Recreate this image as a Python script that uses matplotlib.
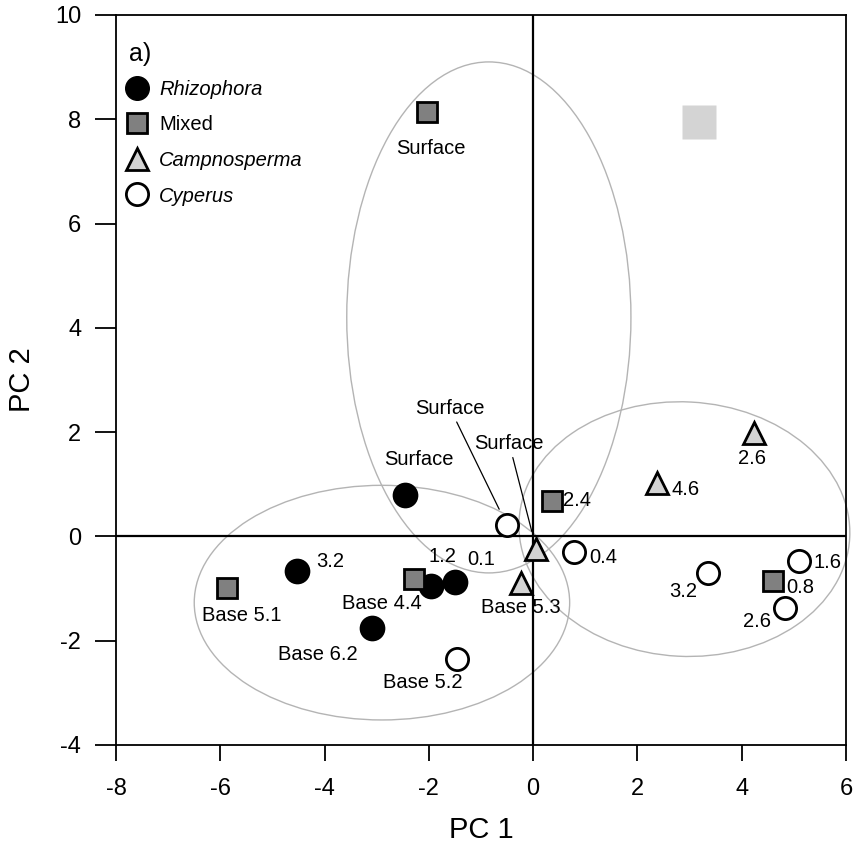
import numpy as np
import matplotlib
matplotlib.use("Agg")
import matplotlib.pyplot as plt
from matplotlib.lines import Line2D
from matplotlib.patches import Ellipse

plt.rcParams['font.family'] = ['Liberation Sans', 'DejaVu Sans']
plt.rcParams['axes.unicode_minus'] = False

# PCA scores per vegetation type
rhizo_x = [-2.45, -4.52, -1.95, -1.50, -3.10]
rhizo_y = [0.80, -0.66, -0.95, -0.87, -1.76]
rhizo_lab = ["Surface", "3.2", "1.2", "0.1", "Base 6.2"]

mixed_x = [-2.04, -5.88, -2.28, 0.37, 4.60]
mixed_y = [8.14, -0.98, -0.82, 0.68, -0.86]
mixed_lab = ["Surface", "Base 5.1", "Base 4.4", "2.4", "0.8"]

campno_x = [4.23, 2.38, 0.06, -0.23]
campno_y = [1.98, 1.02, -0.24, -0.89]
campno_lab = ["2.6", "4.6", "Surface", "Base 5.3"]

cyper_x = [-0.50, 0.79, 3.35, 5.10, 4.83, -1.46]
cyper_y = [0.21, -0.29, -0.70, -0.47, -1.37, -2.35]
cyper_lab = ["Surface", "0.4", "3.2", "1.6", "2.6", "Base 5.2"]

# grey block in the upper right
block_x = [3.18]
block_y = [7.94]

# group ellipses: centre x, centre y, width, height, angle
ell_cx = [-0.85, -2.90, 2.90]
ell_cy = [4.20, -1.27, 0.14]
ell_w = [5.45, 7.20, 6.35]
ell_h = [9.80, 4.50, 4.88]
ell_ang = [0, 0, -3]

# label offsets in pixels (dx, dy)
rhizo_off = [(13, 35), (33, 9), (11, 29), (26, 22), (-54, -26)]
mixed_off = [(4, -37), (15, -28), (-32, -24), (25, 0), (27, -6)]
campno_off = [(-2, -25), (28, -6), (-27, 105), (0, -25)]
cyper_off = [(-57, 117), (29, -6), (-25, -19), (28, -2), (-28, -14), (-34, -24)]

fig = plt.figure(figsize=(8.55, 8.52), dpi=100)
ax = fig.add_axes([0.1357, 0.1256, 0.8538, 0.8568])

for cx, cy, w, h, a in zip(ell_cx, ell_cy, ell_w, ell_h, ell_ang):
    e = Ellipse((cx, cy), w, h, angle=a, fill=False, ec='#b4b4b4', lw=1.0,
                zorder=1, clip_on=False)
    ax.add_patch(e)

ax.axhline(0, color='black', lw=1.6, zorder=2)
ax.axvline(0, color='black', lw=1.6, zorder=2)

ax.plot(block_x, block_y, 's', ms=24, color='#d4d4d4', mec='none', zorder=2)

ax.plot(rhizo_x, rhizo_y, 'o', ms=17, mfc='black', mec='black', mew=1.5, ls='none', zorder=4)
ax.plot(mixed_x, mixed_y, 's', ms=15, mfc='#808080', mec='black', mew=2, ls='none', zorder=4)
ax.plot(campno_x, campno_y, '^', ms=16, mfc='#d3d3d3', mec='black', mew=2, ls='none', zorder=4)
ax.plot(cyper_x, cyper_y, 'o', ms=16, mfc='white', mec='black', mew=2, ls='none', zorder=4)

lab_fs = 14.5


def put_labels(xs, ys, labs, offs, leaders=()):
    for i, (x, y, t, o) in enumerate(zip(xs, ys, labs, offs)):
        if i in leaders:
            ax.annotate(t, (x, y), xytext=o, textcoords='offset pixels',
                        ha='center', va='center', fontsize=lab_fs, zorder=5,
                        arrowprops=dict(arrowstyle='-', lw=0.9, color='black',
                                        shrinkA=1, shrinkB=13))
        else:
            ax.annotate(t, (x, y), xytext=o, textcoords='offset pixels',
                        ha='center', va='center', fontsize=lab_fs, zorder=5)


put_labels(rhizo_x, rhizo_y, rhizo_lab, rhizo_off)
put_labels(mixed_x, mixed_y, mixed_lab, mixed_off)
put_labels(campno_x, campno_y, campno_lab, campno_off, leaders=(2,))
put_labels(cyper_x, cyper_y, cyper_lab, cyper_off, leaders=(0,))

ax.set_xlim(-8, 6)
ax.set_ylim(-4, 10)
ax.set_xticks(np.arange(-8, 7, 2))
ax.set_yticks(np.arange(-4, 11, 2))
ax.tick_params(axis='x', direction='out', length=11.5, width=1.3, pad=12, labelsize=17)
ax.tick_params(axis='y', direction='out', length=15, width=1.3, pad=10, labelsize=17)
for s in ax.spines.values():
    s.set_linewidth(1.3)

ax.set_xlabel("PC 1", fontsize=21, labelpad=12)
ax.set_ylabel("PC 2", fontsize=21, labelpad=14)

ax.text(0.018, 0.947, "a)", transform=ax.transAxes, fontsize=18, ha='left', va='center')

handles = [
    Line2D([], [], marker='o', ls='none', ms=17, mfc='black', mec='black'),
    Line2D([], [], marker='s', ls='none', ms=15, mfc='#808080', mec='black', mew=2),
    Line2D([], [], marker='^', ls='none', ms=16, mfc='#d3d3d3', mec='black', mew=2),
    Line2D([], [], marker='o', ls='none', ms=16, mfc='white', mec='black', mew=2),
]
names = ["Rhizophora", "Mixed", "Campnosperma", "Cyperus"]
leg = ax.legend(handles, names, loc='upper left', bbox_to_anchor=(0.012, 0.911),
                frameon=False, fontsize=lab_fs, borderaxespad=0, borderpad=0,
                handlelength=1.2, handletextpad=0.5, labelspacing=0.82)
for i, t in enumerate(leg.get_texts()):
    if names[i] != "Mixed":
        t.set_fontstyle('italic')

fig.savefig("out.png", dpi=100)
